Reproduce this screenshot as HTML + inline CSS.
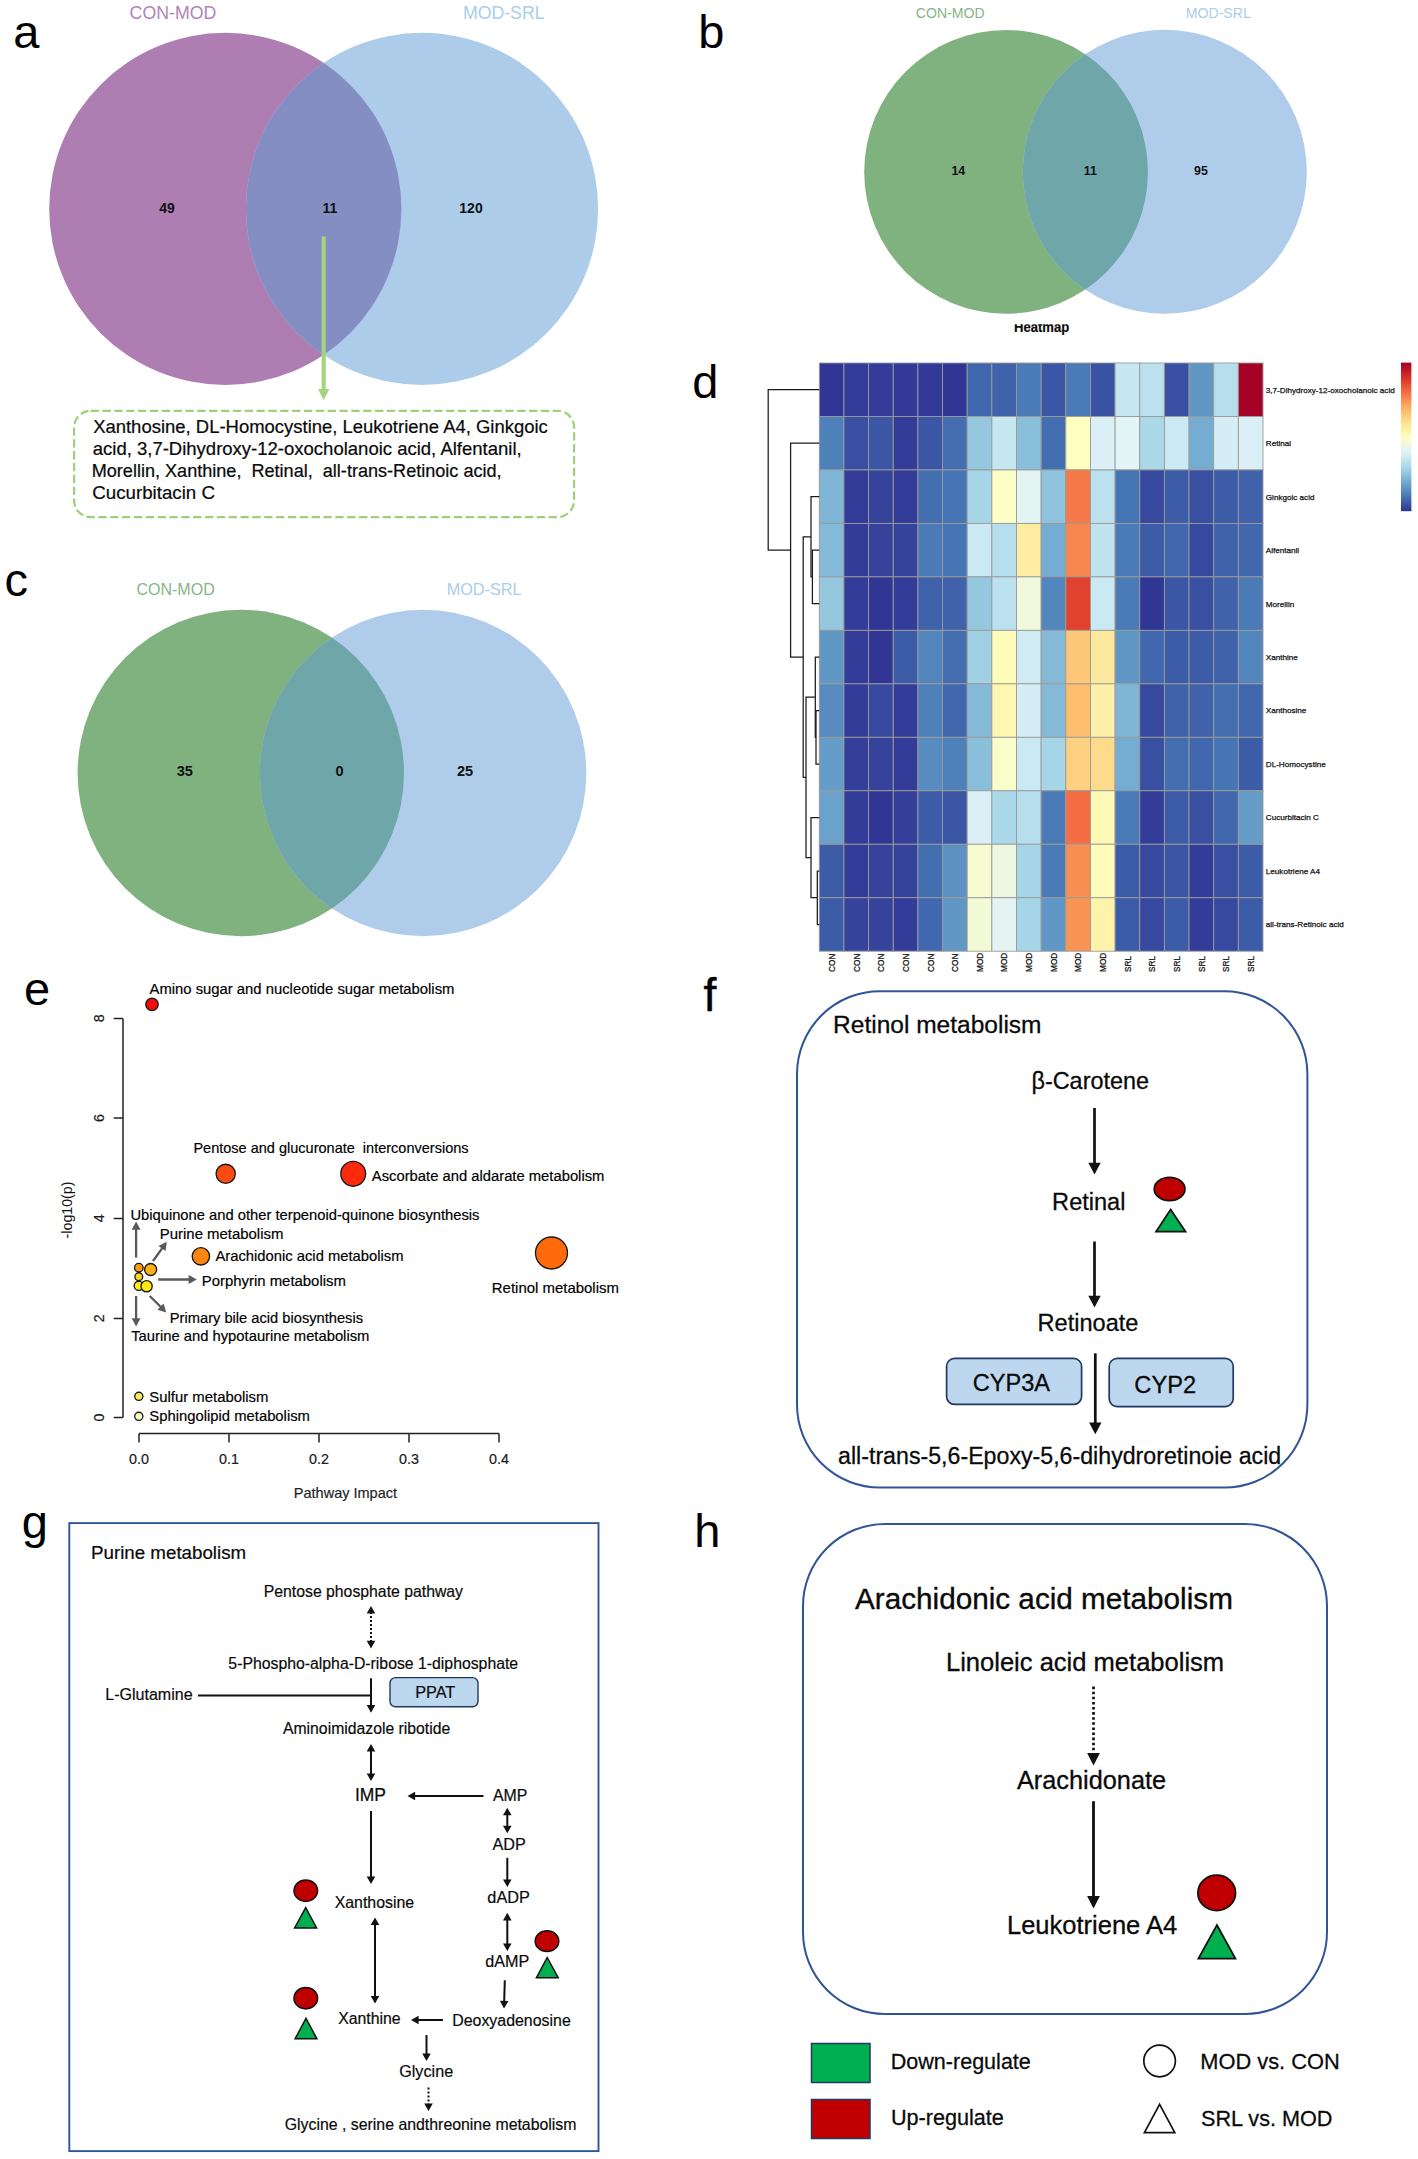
<!DOCTYPE html>
<html lang="en"><head><meta charset="utf-8"><title>Figure</title>
<style>
html,body{margin:0;padding:0;background:#fff}
body{width:1418px;height:2159px;overflow:hidden}
svg{display:block;font-family:"Liberation Sans",sans-serif}
</style></head><body>
<svg width="1418" height="2159" viewBox="0 0 1418 2159">
<rect width="1418" height="2159" fill="#fff"/>
<text x="13.30" y="48.15" font-size="47" fill="#000">a</text>
<text x="698.24" y="48.10" font-size="47" fill="#000">b</text>
<text x="4.60" y="595.60" font-size="47" fill="#000">c</text>
<clipPath id="cpa"><circle cx="225.3" cy="208.9" r="176.1"/></clipPath>
<circle cx="225.3" cy="208.9" r="176.1" fill="#AE7EB3"/>
<circle cx="422" cy="208.9" r="176.1" fill="#ACCCE9"/>
<circle cx="422" cy="208.9" r="176.1" fill="#858EC3" clip-path="url(#cpa)"/>
<text x="129.61" y="18.70" font-size="17.72" fill="#B183B8" textLength="86.64" lengthAdjust="spacingAndGlyphs" stroke="none">CON-MOD</text>
<text x="462.88" y="18.70" font-size="17.71" fill="#A9CDEB" textLength="81.67" lengthAdjust="spacingAndGlyphs" stroke="none">MOD-SRL</text>
<text x="167.00" y="212.50" font-size="14.00" fill="#111" font-weight="bold" text-anchor="middle">49</text>
<text x="330.00" y="212.50" font-size="14.00" fill="#111" font-weight="bold" text-anchor="middle">11</text>
<text x="471.00" y="212.50" font-size="14.00" fill="#111" font-weight="bold" text-anchor="middle">120</text>
<line x1="323.7" y1="236.5" x2="323.7" y2="390" stroke="#A5D47C" stroke-width="4.1"/>
<polygon points="323.7,400.2 318,389 329.4,389" fill="#A5D47C"/>
<rect x="74.1" y="410.8" width="500" height="106.3" rx="16.5" ry="16.5" fill="#fff" stroke="#9FD077" stroke-width="2.2" stroke-dasharray="8.3 3.55"/>
<text x="93.13" y="433.30" font-size="18.47" fill="#0a0a0a" textLength="454.73" lengthAdjust="spacingAndGlyphs" stroke="#0a0a0a" stroke-width="0.22">Xanthosine, DL-Homocystine, Leukotriene A4, Ginkgoic</text>
<text x="92.76" y="455.20" font-size="18.50" fill="#0a0a0a" textLength="428.90" lengthAdjust="spacingAndGlyphs" stroke="#0a0a0a" stroke-width="0.22">acid, 3,7-Dihydroxy-12-oxocholanoic acid, Alfentanil,</text>
<text x="91.75" y="477.30" font-size="18.07" fill="#0a0a0a" textLength="409.82" lengthAdjust="spacingAndGlyphs" stroke="#0a0a0a" stroke-width="0.22">Morellin, Xanthine,  Retinal,  all-trans-Retinoic acid,</text>
<text x="92.26" y="499.10" font-size="18.70" fill="#0a0a0a" textLength="122.65" lengthAdjust="spacingAndGlyphs" stroke="#0a0a0a" stroke-width="0.22">Cucurbitacin C</text>
<clipPath id="cpb"><circle cx="1006.05" cy="171.85" r="141.85"/></clipPath>
<circle cx="1006.05" cy="171.85" r="141.85" fill="#80B280"/>
<circle cx="1164.8" cy="171.85" r="142" fill="#AFCCEA"/>
<circle cx="1164.8" cy="171.85" r="142" fill="#6EA6AA" clip-path="url(#cpb)"/>
<text x="915.80" y="17.70" font-size="14.09" fill="#86B686" textLength="68.88" lengthAdjust="spacingAndGlyphs" stroke="none">CON-MOD</text>
<text x="1185.87" y="17.70" font-size="14.07" fill="#A9CDEB" textLength="64.87" lengthAdjust="spacingAndGlyphs" stroke="none">MOD-SRL</text>
<text x="958.30" y="174.80" font-size="12.40" fill="#111" font-weight="bold" text-anchor="middle">14</text>
<text x="1090.40" y="174.80" font-size="12.40" fill="#111" font-weight="bold" text-anchor="middle">11</text>
<text x="1201.00" y="174.80" font-size="12.40" fill="#111" font-weight="bold" text-anchor="middle">95</text>
<clipPath id="cpc"><circle cx="240.8" cy="773" r="163.2"/></clipPath>
<circle cx="240.8" cy="773" r="163.2" fill="#80B280"/>
<circle cx="423.1" cy="773" r="163.2" fill="#AFCCEA"/>
<circle cx="423.1" cy="773" r="163.2" fill="#6EA6AA" clip-path="url(#cpc)"/>
<text x="136.40" y="595.40" font-size="16.03" fill="#86B686" textLength="78.38" lengthAdjust="spacingAndGlyphs" stroke="none">CON-MOD</text>
<text x="446.70" y="595.40" font-size="16.24" fill="#A9CDEB" textLength="74.91" lengthAdjust="spacingAndGlyphs" stroke="none">MOD-SRL</text>
<text x="184.80" y="776.10" font-size="14.60" fill="#111" font-weight="bold" text-anchor="middle">35</text>
<text x="339.50" y="776.10" font-size="14.60" fill="#111" font-weight="bold" text-anchor="middle">0</text>
<text x="465.00" y="776.10" font-size="14.60" fill="#111" font-weight="bold" text-anchor="middle">25</text>
<text x="692.13" y="397.90" font-size="47" fill="#000">d</text>
<g stroke="#9A9A9A" stroke-width="0.9">
<rect x="819.30" y="363.00" width="24.65" height="53.47" fill="#313695"/>
<rect x="843.95" y="363.00" width="24.65" height="53.47" fill="#333C98"/>
<rect x="868.60" y="363.00" width="24.65" height="53.47" fill="#333C98"/>
<rect x="893.25" y="363.00" width="24.65" height="53.47" fill="#323997"/>
<rect x="917.90" y="363.00" width="24.65" height="53.47" fill="#323997"/>
<rect x="942.55" y="363.00" width="24.65" height="53.47" fill="#313695"/>
<rect x="967.20" y="363.00" width="24.65" height="53.47" fill="#4168AE"/>
<rect x="991.85" y="363.00" width="24.65" height="53.47" fill="#3F62AB"/>
<rect x="1016.50" y="363.00" width="24.65" height="53.47" fill="#4A7BB7"/>
<rect x="1041.15" y="363.00" width="24.65" height="53.47" fill="#3B56A4"/>
<rect x="1065.80" y="363.00" width="24.65" height="53.47" fill="#4A7BB7"/>
<rect x="1090.45" y="363.00" width="24.65" height="53.47" fill="#3A52A3"/>
<rect x="1115.10" y="363.00" width="24.65" height="53.47" fill="#C6E6F0"/>
<rect x="1139.75" y="363.00" width="24.65" height="53.47" fill="#BBE1EE"/>
<rect x="1164.40" y="363.00" width="24.65" height="53.47" fill="#394FA1"/>
<rect x="1189.05" y="363.00" width="24.65" height="53.47" fill="#6197C5"/>
<rect x="1213.70" y="363.00" width="24.65" height="53.47" fill="#B6DEEC"/>
<rect x="1238.35" y="363.00" width="24.65" height="53.47" fill="#A50026"/>
<rect x="819.30" y="416.47" width="24.65" height="53.47" fill="#4E80BA"/>
<rect x="843.95" y="416.47" width="24.65" height="53.47" fill="#394FA1"/>
<rect x="868.60" y="416.47" width="24.65" height="53.47" fill="#3B56A4"/>
<rect x="893.25" y="416.47" width="24.65" height="53.47" fill="#333C98"/>
<rect x="917.90" y="416.47" width="24.65" height="53.47" fill="#3B56A4"/>
<rect x="942.55" y="416.47" width="24.65" height="53.47" fill="#436FB1"/>
<rect x="967.20" y="416.47" width="24.65" height="53.47" fill="#95C7DF"/>
<rect x="991.85" y="416.47" width="24.65" height="53.47" fill="#C6E6F0"/>
<rect x="1016.50" y="416.47" width="24.65" height="53.47" fill="#8ABFDB"/>
<rect x="1041.15" y="416.47" width="24.65" height="53.47" fill="#436FB1"/>
<rect x="1065.80" y="416.47" width="24.65" height="53.47" fill="#FFFFBF"/>
<rect x="1090.45" y="416.47" width="24.65" height="53.47" fill="#DBF0F6"/>
<rect x="1115.10" y="416.47" width="24.65" height="53.47" fill="#E2F4F5"/>
<rect x="1139.75" y="416.47" width="24.65" height="53.47" fill="#ABD9E9"/>
<rect x="1164.40" y="416.47" width="24.65" height="53.47" fill="#CBE9F2"/>
<rect x="1189.05" y="416.47" width="24.65" height="53.47" fill="#74ADD1"/>
<rect x="1213.70" y="416.47" width="24.65" height="53.47" fill="#D5EEF5"/>
<rect x="1238.35" y="416.47" width="24.65" height="53.47" fill="#DBF0F6"/>
<rect x="819.30" y="469.95" width="24.65" height="53.47" fill="#7FB6D6"/>
<rect x="843.95" y="469.95" width="24.65" height="53.47" fill="#333C98"/>
<rect x="868.60" y="469.95" width="24.65" height="53.47" fill="#35439B"/>
<rect x="893.25" y="469.95" width="24.65" height="53.47" fill="#333C98"/>
<rect x="917.90" y="469.95" width="24.65" height="53.47" fill="#436FB1"/>
<rect x="942.55" y="469.95" width="24.65" height="53.47" fill="#4575B4"/>
<rect x="967.20" y="469.95" width="24.65" height="53.47" fill="#A6D5E7"/>
<rect x="991.85" y="469.95" width="24.65" height="53.47" fill="#FCFEC5"/>
<rect x="1016.50" y="469.95" width="24.65" height="53.47" fill="#E3F4F2"/>
<rect x="1041.15" y="469.95" width="24.65" height="53.47" fill="#90C3DD"/>
<rect x="1065.80" y="469.95" width="24.65" height="53.47" fill="#F67A49"/>
<rect x="1090.45" y="469.95" width="24.65" height="53.47" fill="#BBE1EE"/>
<rect x="1115.10" y="469.95" width="24.65" height="53.47" fill="#4575B4"/>
<rect x="1139.75" y="469.95" width="24.65" height="53.47" fill="#37499E"/>
<rect x="1164.40" y="469.95" width="24.65" height="53.47" fill="#3D5CA8"/>
<rect x="1189.05" y="469.95" width="24.65" height="53.47" fill="#394FA1"/>
<rect x="1213.70" y="469.95" width="24.65" height="53.47" fill="#3D5CA8"/>
<rect x="1238.35" y="469.95" width="24.65" height="53.47" fill="#3F62AB"/>
<rect x="819.30" y="523.42" width="24.65" height="53.47" fill="#84BAD8"/>
<rect x="843.95" y="523.42" width="24.65" height="53.47" fill="#333C98"/>
<rect x="868.60" y="523.42" width="24.65" height="53.47" fill="#35439B"/>
<rect x="893.25" y="523.42" width="24.65" height="53.47" fill="#35439B"/>
<rect x="917.90" y="523.42" width="24.65" height="53.47" fill="#4A7BB7"/>
<rect x="942.55" y="523.42" width="24.65" height="53.47" fill="#4575B4"/>
<rect x="967.20" y="523.42" width="24.65" height="53.47" fill="#CBE9F2"/>
<rect x="991.85" y="523.42" width="24.65" height="53.47" fill="#B6DEEC"/>
<rect x="1016.50" y="523.42" width="24.65" height="53.47" fill="#FEECA3"/>
<rect x="1041.15" y="523.42" width="24.65" height="53.47" fill="#74ADD1"/>
<rect x="1065.80" y="523.42" width="24.65" height="53.47" fill="#F8874F"/>
<rect x="1090.45" y="523.42" width="24.65" height="53.47" fill="#C0E3EF"/>
<rect x="1115.10" y="523.42" width="24.65" height="53.47" fill="#4A7BB7"/>
<rect x="1139.75" y="523.42" width="24.65" height="53.47" fill="#3D5CA8"/>
<rect x="1164.40" y="523.42" width="24.65" height="53.47" fill="#4168AE"/>
<rect x="1189.05" y="523.42" width="24.65" height="53.47" fill="#37499E"/>
<rect x="1213.70" y="523.42" width="24.65" height="53.47" fill="#3F62AB"/>
<rect x="1238.35" y="523.42" width="24.65" height="53.47" fill="#4168AE"/>
<rect x="819.30" y="576.89" width="24.65" height="53.47" fill="#95C7DF"/>
<rect x="843.95" y="576.89" width="24.65" height="53.47" fill="#333C98"/>
<rect x="868.60" y="576.89" width="24.65" height="53.47" fill="#313695"/>
<rect x="893.25" y="576.89" width="24.65" height="53.47" fill="#333C98"/>
<rect x="917.90" y="576.89" width="24.65" height="53.47" fill="#3F62AB"/>
<rect x="942.55" y="576.89" width="24.65" height="53.47" fill="#3F62AB"/>
<rect x="967.20" y="576.89" width="24.65" height="53.47" fill="#95C7DF"/>
<rect x="991.85" y="576.89" width="24.65" height="53.47" fill="#BBE1EE"/>
<rect x="1016.50" y="576.89" width="24.65" height="53.47" fill="#F0F9DC"/>
<rect x="1041.15" y="576.89" width="24.65" height="53.47" fill="#5386BD"/>
<rect x="1065.80" y="576.89" width="24.65" height="53.47" fill="#E0422F"/>
<rect x="1090.45" y="576.89" width="24.65" height="53.47" fill="#CBE9F2"/>
<rect x="1115.10" y="576.89" width="24.65" height="53.47" fill="#4A7BB7"/>
<rect x="1139.75" y="576.89" width="24.65" height="53.47" fill="#313695"/>
<rect x="1164.40" y="576.89" width="24.65" height="53.47" fill="#3B56A4"/>
<rect x="1189.05" y="576.89" width="24.65" height="53.47" fill="#394FA1"/>
<rect x="1213.70" y="576.89" width="24.65" height="53.47" fill="#3F62AB"/>
<rect x="1238.35" y="576.89" width="24.65" height="53.47" fill="#4A7BB7"/>
<rect x="819.30" y="630.36" width="24.65" height="53.47" fill="#6197C5"/>
<rect x="843.95" y="630.36" width="24.65" height="53.47" fill="#333C98"/>
<rect x="868.60" y="630.36" width="24.65" height="53.47" fill="#313695"/>
<rect x="893.25" y="630.36" width="24.65" height="53.47" fill="#3D5CA8"/>
<rect x="917.90" y="630.36" width="24.65" height="53.47" fill="#5386BD"/>
<rect x="942.55" y="630.36" width="24.65" height="53.47" fill="#436FB1"/>
<rect x="967.20" y="630.36" width="24.65" height="53.47" fill="#A0D0E4"/>
<rect x="991.85" y="630.36" width="24.65" height="53.47" fill="#FFFCBA"/>
<rect x="1016.50" y="630.36" width="24.65" height="53.47" fill="#D0EBF4"/>
<rect x="1041.15" y="630.36" width="24.65" height="53.47" fill="#84BAD8"/>
<rect x="1065.80" y="630.36" width="24.65" height="53.47" fill="#FEC778"/>
<rect x="1090.45" y="630.36" width="24.65" height="53.47" fill="#FEE99E"/>
<rect x="1115.10" y="630.36" width="24.65" height="53.47" fill="#6197C5"/>
<rect x="1139.75" y="630.36" width="24.65" height="53.47" fill="#4168AE"/>
<rect x="1164.40" y="630.36" width="24.65" height="53.47" fill="#3D5CA8"/>
<rect x="1189.05" y="630.36" width="24.65" height="53.47" fill="#3D5CA8"/>
<rect x="1213.70" y="630.36" width="24.65" height="53.47" fill="#3F62AB"/>
<rect x="1238.35" y="630.36" width="24.65" height="53.47" fill="#5386BD"/>
<rect x="819.30" y="683.84" width="24.65" height="53.47" fill="#588BC0"/>
<rect x="843.95" y="683.84" width="24.65" height="53.47" fill="#333C98"/>
<rect x="868.60" y="683.84" width="24.65" height="53.47" fill="#37499E"/>
<rect x="893.25" y="683.84" width="24.65" height="53.47" fill="#333C98"/>
<rect x="917.90" y="683.84" width="24.65" height="53.47" fill="#4E80BA"/>
<rect x="942.55" y="683.84" width="24.65" height="53.47" fill="#4168AE"/>
<rect x="967.20" y="683.84" width="24.65" height="53.47" fill="#84BAD8"/>
<rect x="991.85" y="683.84" width="24.65" height="53.47" fill="#FFF6B1"/>
<rect x="1016.50" y="683.84" width="24.65" height="53.47" fill="#D5EEF5"/>
<rect x="1041.15" y="683.84" width="24.65" height="53.47" fill="#84BAD8"/>
<rect x="1065.80" y="683.84" width="24.65" height="53.47" fill="#FDBD6F"/>
<rect x="1090.45" y="683.84" width="24.65" height="53.47" fill="#FEF0A8"/>
<rect x="1115.10" y="683.84" width="24.65" height="53.47" fill="#7FB6D6"/>
<rect x="1139.75" y="683.84" width="24.65" height="53.47" fill="#37499E"/>
<rect x="1164.40" y="683.84" width="24.65" height="53.47" fill="#3F62AB"/>
<rect x="1189.05" y="683.84" width="24.65" height="53.47" fill="#3F62AB"/>
<rect x="1213.70" y="683.84" width="24.65" height="53.47" fill="#436FB1"/>
<rect x="1238.35" y="683.84" width="24.65" height="53.47" fill="#4168AE"/>
<rect x="819.30" y="737.31" width="24.65" height="53.47" fill="#669CC8"/>
<rect x="843.95" y="737.31" width="24.65" height="53.47" fill="#343F9A"/>
<rect x="868.60" y="737.31" width="24.65" height="53.47" fill="#35439B"/>
<rect x="893.25" y="737.31" width="24.65" height="53.47" fill="#333C98"/>
<rect x="917.90" y="737.31" width="24.65" height="53.47" fill="#588BC0"/>
<rect x="942.55" y="737.31" width="24.65" height="53.47" fill="#4E80BA"/>
<rect x="967.20" y="737.31" width="24.65" height="53.47" fill="#8ABFDB"/>
<rect x="991.85" y="737.31" width="24.65" height="53.47" fill="#F9FDCA"/>
<rect x="1016.50" y="737.31" width="24.65" height="53.47" fill="#CBE9F2"/>
<rect x="1041.15" y="737.31" width="24.65" height="53.47" fill="#A6D5E7"/>
<rect x="1065.80" y="737.31" width="24.65" height="53.47" fill="#FED182"/>
<rect x="1090.45" y="737.31" width="24.65" height="53.47" fill="#FEDB8B"/>
<rect x="1115.10" y="737.31" width="24.65" height="53.47" fill="#74ADD1"/>
<rect x="1139.75" y="737.31" width="24.65" height="53.47" fill="#394FA1"/>
<rect x="1164.40" y="737.31" width="24.65" height="53.47" fill="#436FB1"/>
<rect x="1189.05" y="737.31" width="24.65" height="53.47" fill="#4168AE"/>
<rect x="1213.70" y="737.31" width="24.65" height="53.47" fill="#4575B4"/>
<rect x="1238.35" y="737.31" width="24.65" height="53.47" fill="#3D5CA8"/>
<rect x="819.30" y="790.78" width="24.65" height="53.47" fill="#6BA2CB"/>
<rect x="843.95" y="790.78" width="24.65" height="53.47" fill="#333C98"/>
<rect x="868.60" y="790.78" width="24.65" height="53.47" fill="#313695"/>
<rect x="893.25" y="790.78" width="24.65" height="53.47" fill="#343F9A"/>
<rect x="917.90" y="790.78" width="24.65" height="53.47" fill="#3D5CA8"/>
<rect x="942.55" y="790.78" width="24.65" height="53.47" fill="#3B56A4"/>
<rect x="967.20" y="790.78" width="24.65" height="53.47" fill="#DBF0F6"/>
<rect x="991.85" y="790.78" width="24.65" height="53.47" fill="#ABD9E9"/>
<rect x="1016.50" y="790.78" width="24.65" height="53.47" fill="#B6DEEC"/>
<rect x="1041.15" y="790.78" width="24.65" height="53.47" fill="#4A7BB7"/>
<rect x="1065.80" y="790.78" width="24.65" height="53.47" fill="#F46D43"/>
<rect x="1090.45" y="790.78" width="24.65" height="53.47" fill="#FFF9B6"/>
<rect x="1115.10" y="790.78" width="24.65" height="53.47" fill="#4A7BB7"/>
<rect x="1139.75" y="790.78" width="24.65" height="53.47" fill="#333C98"/>
<rect x="1164.40" y="790.78" width="24.65" height="53.47" fill="#3D5CA8"/>
<rect x="1189.05" y="790.78" width="24.65" height="53.47" fill="#394FA1"/>
<rect x="1213.70" y="790.78" width="24.65" height="53.47" fill="#4168AE"/>
<rect x="1238.35" y="790.78" width="24.65" height="53.47" fill="#669CC8"/>
<rect x="819.30" y="844.25" width="24.65" height="53.47" fill="#3D5CA8"/>
<rect x="843.95" y="844.25" width="24.65" height="53.47" fill="#333C98"/>
<rect x="868.60" y="844.25" width="24.65" height="53.47" fill="#35439B"/>
<rect x="893.25" y="844.25" width="24.65" height="53.47" fill="#35439B"/>
<rect x="917.90" y="844.25" width="24.65" height="53.47" fill="#436FB1"/>
<rect x="942.55" y="844.25" width="24.65" height="53.47" fill="#5C91C2"/>
<rect x="967.20" y="844.25" width="24.65" height="53.47" fill="#F6FBD0"/>
<rect x="991.85" y="844.25" width="24.65" height="53.47" fill="#ECF8E1"/>
<rect x="1016.50" y="844.25" width="24.65" height="53.47" fill="#A6D5E7"/>
<rect x="1041.15" y="844.25" width="24.65" height="53.47" fill="#4A7BB7"/>
<rect x="1065.80" y="844.25" width="24.65" height="53.47" fill="#F88E52"/>
<rect x="1090.45" y="844.25" width="24.65" height="53.47" fill="#FFFCBA"/>
<rect x="1115.10" y="844.25" width="24.65" height="53.47" fill="#3D5CA8"/>
<rect x="1139.75" y="844.25" width="24.65" height="53.47" fill="#37499E"/>
<rect x="1164.40" y="844.25" width="24.65" height="53.47" fill="#3B56A4"/>
<rect x="1189.05" y="844.25" width="24.65" height="53.47" fill="#333C98"/>
<rect x="1213.70" y="844.25" width="24.65" height="53.47" fill="#394FA1"/>
<rect x="1238.35" y="844.25" width="24.65" height="53.47" fill="#3D5CA8"/>
<rect x="819.30" y="897.73" width="24.65" height="53.47" fill="#3D5CA8"/>
<rect x="843.95" y="897.73" width="24.65" height="53.47" fill="#35439B"/>
<rect x="868.60" y="897.73" width="24.65" height="53.47" fill="#35439B"/>
<rect x="893.25" y="897.73" width="24.65" height="53.47" fill="#333C98"/>
<rect x="917.90" y="897.73" width="24.65" height="53.47" fill="#4168AE"/>
<rect x="942.55" y="897.73" width="24.65" height="53.47" fill="#6197C5"/>
<rect x="967.20" y="897.73" width="24.65" height="53.47" fill="#F3FAD6"/>
<rect x="991.85" y="897.73" width="24.65" height="53.47" fill="#E3F4F2"/>
<rect x="1016.50" y="897.73" width="24.65" height="53.47" fill="#A6D5E7"/>
<rect x="1041.15" y="897.73" width="24.65" height="53.47" fill="#6197C5"/>
<rect x="1065.80" y="897.73" width="24.65" height="53.47" fill="#F99455"/>
<rect x="1090.45" y="897.73" width="24.65" height="53.47" fill="#FFF3AC"/>
<rect x="1115.10" y="897.73" width="24.65" height="53.47" fill="#3D5CA8"/>
<rect x="1139.75" y="897.73" width="24.65" height="53.47" fill="#37499E"/>
<rect x="1164.40" y="897.73" width="24.65" height="53.47" fill="#3D5CA8"/>
<rect x="1189.05" y="897.73" width="24.65" height="53.47" fill="#333C98"/>
<rect x="1213.70" y="897.73" width="24.65" height="53.47" fill="#37499E"/>
<rect x="1238.35" y="897.73" width="24.65" height="53.47" fill="#3D5CA8"/>
</g>
<text x="1265.80" y="392.64" font-size="8.12" fill="#111" stroke="#111" stroke-width="0.25">3,7-Dihydroxy-12-oxocholanoic acid</text>
<text x="1265.80" y="446.11" font-size="8.12" fill="#111" stroke="#111" stroke-width="0.25">Retinal</text>
<text x="1265.80" y="499.58" font-size="8.12" fill="#111" stroke="#111" stroke-width="0.25">Ginkgoic acid</text>
<text x="1265.80" y="553.05" font-size="8.12" fill="#111" stroke="#111" stroke-width="0.25">Alfentanil</text>
<text x="1265.80" y="606.53" font-size="8.12" fill="#111" stroke="#111" stroke-width="0.25">Morellin</text>
<text x="1265.80" y="660.00" font-size="8.12" fill="#111" stroke="#111" stroke-width="0.25">Xanthine</text>
<text x="1265.80" y="713.47" font-size="8.12" fill="#111" stroke="#111" stroke-width="0.25">Xanthosine</text>
<text x="1265.80" y="766.95" font-size="8.12" fill="#111" stroke="#111" stroke-width="0.25">DL-Homocystine</text>
<text x="1265.80" y="820.42" font-size="8.12" fill="#111" stroke="#111" stroke-width="0.25">Cucurbitacin C</text>
<text x="1265.80" y="873.89" font-size="8.12" fill="#111" stroke="#111" stroke-width="0.25">Leukotriene A4</text>
<text x="1265.80" y="927.36" font-size="8.12" fill="#111" stroke="#111" stroke-width="0.25">all-trans-Retinoic acid</text>
<text transform="translate(834.92,971.9) rotate(-90)" font-size="8.2" fill="#111" stroke="#111" stroke-width="0.25">CON</text>
<text transform="translate(859.57,971.9) rotate(-90)" font-size="8.2" fill="#111" stroke="#111" stroke-width="0.25">CON</text>
<text transform="translate(884.22,971.9) rotate(-90)" font-size="8.2" fill="#111" stroke="#111" stroke-width="0.25">CON</text>
<text transform="translate(908.87,971.9) rotate(-90)" font-size="8.2" fill="#111" stroke="#111" stroke-width="0.25">CON</text>
<text transform="translate(933.52,971.9) rotate(-90)" font-size="8.2" fill="#111" stroke="#111" stroke-width="0.25">CON</text>
<text transform="translate(958.17,971.9) rotate(-90)" font-size="8.2" fill="#111" stroke="#111" stroke-width="0.25">CON</text>
<text transform="translate(982.82,971.9) rotate(-90)" font-size="8.2" fill="#111" stroke="#111" stroke-width="0.25">MOD</text>
<text transform="translate(1007.47,971.9) rotate(-90)" font-size="8.2" fill="#111" stroke="#111" stroke-width="0.25">MOD</text>
<text transform="translate(1032.12,971.9) rotate(-90)" font-size="8.2" fill="#111" stroke="#111" stroke-width="0.25">MOD</text>
<text transform="translate(1056.77,971.9) rotate(-90)" font-size="8.2" fill="#111" stroke="#111" stroke-width="0.25">MOD</text>
<text transform="translate(1081.42,971.9) rotate(-90)" font-size="8.2" fill="#111" stroke="#111" stroke-width="0.25">MOD</text>
<text transform="translate(1106.08,971.9) rotate(-90)" font-size="8.2" fill="#111" stroke="#111" stroke-width="0.25">MOD</text>
<text transform="translate(1130.72,971.9) rotate(-90)" font-size="8.2" fill="#111" stroke="#111" stroke-width="0.25">SRL</text>
<text transform="translate(1155.38,971.9) rotate(-90)" font-size="8.2" fill="#111" stroke="#111" stroke-width="0.25">SRL</text>
<text transform="translate(1180.02,971.9) rotate(-90)" font-size="8.2" fill="#111" stroke="#111" stroke-width="0.25">SRL</text>
<text transform="translate(1204.67,971.9) rotate(-90)" font-size="8.2" fill="#111" stroke="#111" stroke-width="0.25">SRL</text>
<text transform="translate(1229.33,971.9) rotate(-90)" font-size="8.2" fill="#111" stroke="#111" stroke-width="0.25">SRL</text>
<text transform="translate(1253.97,971.9) rotate(-90)" font-size="8.2" fill="#111" stroke="#111" stroke-width="0.25">SRL</text>
<clipPath id="cph"><rect x="1000" y="324.2" width="100" height="20"/></clipPath>
<text x="1014.05" y="331.70" font-size="13.90" fill="#0a0a0a" font-weight="bold" textLength="55.15" lengthAdjust="spacingAndGlyphs" clip-path="url(#cph)" stroke="#0a0a0a" stroke-width="0.17">Heatmap</text>
<defs><linearGradient id="cb" x1="0" y1="1" x2="0" y2="0"><stop offset="0%" stop-color="#313695"/><stop offset="10%" stop-color="#4575B4"/><stop offset="20%" stop-color="#74ADD1"/><stop offset="30%" stop-color="#ABD9E9"/><stop offset="40%" stop-color="#E0F3F8"/><stop offset="50%" stop-color="#FFFFBF"/><stop offset="60%" stop-color="#FEE090"/><stop offset="70%" stop-color="#FDAE61"/><stop offset="80%" stop-color="#F46D43"/><stop offset="90%" stop-color="#D73027"/><stop offset="100%" stop-color="#A50026"/></linearGradient></defs>
<rect x="1401" y="362.6" width="10.4" height="148.6" fill="url(#cb)"/>
<polyline points="819.3,550.2 812.4,550.2 812.4,603.6 819.3,603.6" fill="none" stroke="#1a1a1a" stroke-width="1.25"/>
<polyline points="819.3,496.7 811.0,496.7 811.0,576.9 812.4,576.9" fill="none" stroke="#1a1a1a" stroke-width="1.25"/>
<polyline points="819.3,710.6 816.0,710.6 816.0,764.0 819.3,764.0" fill="none" stroke="#1a1a1a" stroke-width="1.25"/>
<polyline points="819.3,657.1 815.3,657.1 815.3,737.3 816.0,737.3" fill="none" stroke="#1a1a1a" stroke-width="1.25"/>
<polyline points="819.3,871.0 817.3,871.0 817.3,924.5 819.3,924.5" fill="none" stroke="#1a1a1a" stroke-width="1.25"/>
<polyline points="819.3,817.5 811.0,817.5 811.0,897.7 817.3,897.7" fill="none" stroke="#1a1a1a" stroke-width="1.25"/>
<polyline points="815.3,697.2 806.0,697.2 806.0,857.6 811.0,857.6" fill="none" stroke="#1a1a1a" stroke-width="1.25"/>
<polyline points="811.0,536.8 803.2,536.8 803.2,777.4 806.0,777.4" fill="none" stroke="#1a1a1a" stroke-width="1.25"/>
<polyline points="819.3,443.2 790.6,443.2 790.6,657.1 803.2,657.1" fill="none" stroke="#1a1a1a" stroke-width="1.25"/>
<polyline points="819.3,389.7 768.2,389.7 768.2,550.2 790.6,550.2" fill="none" stroke="#1a1a1a" stroke-width="1.25"/>
<text x="23.91" y="1004.60" font-size="47" fill="#000">e</text>
<path d="M113.7 1018.4H123M113.7 1118H123M113.7 1218.4H123M113.7 1318.4H123M113.7 1417.6H123M123 1018.4V1417.6" stroke="#222" stroke-width="1.5" fill="none"/>
<text transform="translate(103.6,1018.4) rotate(-90)" font-size="14.3" fill="#1a1a1a" stroke="#1a1a1a" stroke-width="0.2" text-anchor="middle">8</text>
<text transform="translate(103.6,1118) rotate(-90)" font-size="14.3" fill="#1a1a1a" stroke="#1a1a1a" stroke-width="0.2" text-anchor="middle">6</text>
<text transform="translate(103.6,1218.4) rotate(-90)" font-size="14.3" fill="#1a1a1a" stroke="#1a1a1a" stroke-width="0.2" text-anchor="middle">4</text>
<text transform="translate(103.6,1318.4) rotate(-90)" font-size="14.3" fill="#1a1a1a" stroke="#1a1a1a" stroke-width="0.2" text-anchor="middle">2</text>
<text transform="translate(103.6,1417.6) rotate(-90)" font-size="14.3" fill="#1a1a1a" stroke="#1a1a1a" stroke-width="0.2" text-anchor="middle">0</text>
<text transform="translate(71.5,1210) rotate(-90)" font-size="14.2" fill="#111" text-anchor="middle">-log10(p)</text>
<path d="M139 1433.5H499M139 1433.5V1442.5M229 1433.5V1442.5M319 1433.5V1442.5M409 1433.5V1442.5M499 1433.5V1442.5" stroke="#222" stroke-width="1.5" fill="none"/>
<text x="139.00" y="1463.80" font-size="14.30" fill="#1a1a1a" text-anchor="middle" stroke="#1a1a1a" stroke-width="0.2">0.0</text>
<text x="229.00" y="1463.80" font-size="14.30" fill="#1a1a1a" text-anchor="middle" stroke="#1a1a1a" stroke-width="0.2">0.1</text>
<text x="319.00" y="1463.80" font-size="14.30" fill="#1a1a1a" text-anchor="middle" stroke="#1a1a1a" stroke-width="0.2">0.2</text>
<text x="409.00" y="1463.80" font-size="14.30" fill="#1a1a1a" text-anchor="middle" stroke="#1a1a1a" stroke-width="0.2">0.3</text>
<text x="499.00" y="1463.80" font-size="14.30" fill="#1a1a1a" text-anchor="middle" stroke="#1a1a1a" stroke-width="0.2">0.4</text>
<text x="293.84" y="1498.00" font-size="14.51" fill="#222" textLength="103.22" lengthAdjust="spacingAndGlyphs" stroke="#222" stroke-width="0.17">Pathway Impact</text>
<circle cx="152" cy="1004.3" r="6.2" fill="#F50A0A" stroke="#1a1a1a" stroke-width="1.35"/>
<circle cx="225.7" cy="1173.8" r="9.6" fill="#FB4A12" stroke="#1a1a1a" stroke-width="1.35"/>
<circle cx="353.2" cy="1173.8" r="12.4" fill="#FD2A0C" stroke="#1a1a1a" stroke-width="1.35"/>
<circle cx="551.5" cy="1253" r="16" fill="#FF6A0D" stroke="#1a1a1a" stroke-width="1.35"/>
<circle cx="200.9" cy="1256.3" r="8.7" fill="#FF860E" stroke="#1a1a1a" stroke-width="1.35"/>
<circle cx="138.8" cy="1267.7" r="4.3" fill="#FF9A10" stroke="#1a1a1a" stroke-width="1.35"/>
<circle cx="150.6" cy="1269.5" r="6" fill="#FFB014" stroke="#1a1a1a" stroke-width="1.35"/>
<circle cx="138.8" cy="1276.7" r="3.9" fill="#FFD21E" stroke="#1a1a1a" stroke-width="1.35"/>
<circle cx="138.8" cy="1285.8" r="4.6" fill="#FFEE14" stroke="#1a1a1a" stroke-width="1.35"/>
<circle cx="146.6" cy="1286.2" r="5.6" fill="#FFE814" stroke="#1a1a1a" stroke-width="1.35"/>
<circle cx="138.8" cy="1396.3" r="4.1" fill="#F4EC58" stroke="#1a1a1a" stroke-width="1.35"/>
<circle cx="138.8" cy="1416.3" r="4.1" fill="#FAFAC4" stroke="#1a1a1a" stroke-width="1.35"/>
<text x="149.50" y="993.90" font-size="14.83" fill="#000" textLength="304.93" lengthAdjust="spacingAndGlyphs" stroke="#000" stroke-width="0.18">Amino sugar and nucleotide sugar metabolism</text>
<text x="193.44" y="1152.70" font-size="14.51" fill="#000" textLength="275.10" lengthAdjust="spacingAndGlyphs" stroke="#000" stroke-width="0.17">Pentose and glucuronate  interconversions</text>
<text x="371.80" y="1180.50" font-size="14.79" fill="#000" textLength="232.61" lengthAdjust="spacingAndGlyphs" stroke="#000" stroke-width="0.18">Ascorbate and aldarate metabolism</text>
<text x="130.39" y="1220.00" font-size="14.74" fill="#000" textLength="349.11" lengthAdjust="spacingAndGlyphs" stroke="#000" stroke-width="0.18">Ubiquinone and other terpenoid-quinone biosynthesis</text>
<text x="159.81" y="1239.00" font-size="14.93" fill="#000" textLength="123.61" lengthAdjust="spacingAndGlyphs" stroke="#000" stroke-width="0.18">Purine metabolism</text>
<text x="215.50" y="1261.00" font-size="14.77" fill="#000" textLength="187.94" lengthAdjust="spacingAndGlyphs" stroke="#000" stroke-width="0.18">Arachidonic acid metabolism</text>
<text x="201.81" y="1286.00" font-size="14.90" fill="#000" textLength="144.10" lengthAdjust="spacingAndGlyphs" stroke="#000" stroke-width="0.18">Porphyrin metabolism</text>
<text x="169.83" y="1323.00" font-size="14.67" fill="#000" textLength="193.22" lengthAdjust="spacingAndGlyphs" stroke="#000" stroke-width="0.18">Primary bile acid biosynthesis</text>
<text x="131.20" y="1341.00" font-size="14.78" fill="#000" textLength="238.20" lengthAdjust="spacingAndGlyphs" stroke="#000" stroke-width="0.18">Taurine and hypotaurine metabolism</text>
<text x="149.33" y="1401.50" font-size="14.88" fill="#000" textLength="119.11" lengthAdjust="spacingAndGlyphs" stroke="#000" stroke-width="0.18">Sulfur metabolism</text>
<text x="149.33" y="1420.50" font-size="14.82" fill="#000" textLength="160.63" lengthAdjust="spacingAndGlyphs" stroke="#000" stroke-width="0.18">Sphingolipid metabolism</text>
<text x="491.80" y="1292.50" font-size="14.95" fill="#000" textLength="127.15" lengthAdjust="spacingAndGlyphs" stroke="#000" stroke-width="0.18">Retinol metabolism</text>
<line x1="136.10" y1="1257.60" x2="136.10" y2="1228.16" stroke="#595959" stroke-width="2.3"/>
<polygon points="136.10,1221.60 140.50,1229.80 131.70,1229.80" fill="#595959"/>
<line x1="136.10" y1="1296.00" x2="136.10" y2="1319.84" stroke="#595959" stroke-width="2.3"/>
<polygon points="136.10,1326.40 131.70,1318.20 140.50,1318.20" fill="#595959"/>
<line x1="158.20" y1="1279.50" x2="190.24" y2="1279.50" stroke="#595959" stroke-width="2.3"/>
<polygon points="196.80,1279.50 188.60,1283.90 188.60,1275.10" fill="#595959"/>
<line x1="153.00" y1="1261.00" x2="162.97" y2="1247.13" stroke="#595959" stroke-width="2.3"/>
<polygon points="166.80,1241.80 165.59,1251.03 158.44,1245.89" fill="#595959"/>
<line x1="149.70" y1="1296.00" x2="161.63" y2="1307.79" stroke="#595959" stroke-width="2.3"/>
<polygon points="166.30,1312.40 157.37,1309.77 163.56,1303.51" fill="#595959"/>
<text x="703.51" y="1010.80" font-size="46.5" fill="#000" stroke="#000" stroke-width="0.4">f</text>
<rect x="797" y="991.2" width="510.4" height="496.4" rx="83" ry="83" fill="none" stroke="#2F5597" stroke-width="2"/>
<text x="833.04" y="1032.50" font-size="24.52" fill="#0a0a0a" textLength="208.52" lengthAdjust="spacingAndGlyphs" stroke="#0a0a0a" stroke-width="0.29">Retinol metabolism</text>
<text x="1031.48" y="1089.00" font-size="23.40" fill="#0a0a0a" textLength="117.51" lengthAdjust="spacingAndGlyphs" stroke="#0a0a0a" stroke-width="0.28">β-Carotene</text>
<line x1="1094.50" y1="1108.00" x2="1094.50" y2="1165.14" stroke="#111" stroke-width="2.7"/>
<polygon points="1094.50,1174.50 1088.30,1162.80 1100.70,1162.80" fill="#111"/>
<text x="1052.11" y="1210.00" font-size="23.57" fill="#0a0a0a" textLength="73.37" lengthAdjust="spacingAndGlyphs" stroke="#0a0a0a" stroke-width="0.28">Retinal</text>
<ellipse cx="1169.6" cy="1189" rx="15.4" ry="11.6" fill="#C00000" stroke="#111" stroke-width="1.7"/>
<polygon points="1170.6,1209.6 1185.6,1231.7 1156,1231.7" fill="#00B050" stroke="#111" stroke-width="1.7" stroke-linejoin="miter"/>
<line x1="1094.50" y1="1241.50" x2="1094.50" y2="1298.14" stroke="#111" stroke-width="2.7"/>
<polygon points="1094.50,1307.50 1088.30,1295.80 1100.70,1295.80" fill="#111"/>
<text x="1037.62" y="1331.00" font-size="23.56" fill="#0a0a0a" textLength="100.85" lengthAdjust="spacingAndGlyphs" stroke="#0a0a0a" stroke-width="0.28">Retinoate</text>
<line x1="1095.30" y1="1353.30" x2="1095.30" y2="1424.94" stroke="#111" stroke-width="2.7"/>
<polygon points="1095.30,1434.30 1089.10,1422.60 1101.50,1422.60" fill="#111"/>
<rect x="946.6" y="1358.4" width="135" height="46" rx="8" ry="8" fill="#BDD7EE" stroke="#203864" stroke-width="1.7"/>
<rect x="1109.2" y="1358.4" width="124" height="48.2" rx="8" ry="8" fill="#BDD7EE" stroke="#203864" stroke-width="1.7"/>
<text x="972.82" y="1391.00" font-size="23.57" fill="#0a0a0a" textLength="77.28" lengthAdjust="spacingAndGlyphs" stroke="#0a0a0a" stroke-width="0.28">CYP3A</text>
<text x="1134.32" y="1393.00" font-size="23.66" fill="#0a0a0a" textLength="61.80" lengthAdjust="spacingAndGlyphs" stroke="#0a0a0a" stroke-width="0.28">CYP2</text>
<text x="838.07" y="1464.00" font-size="23.18" fill="#0a0a0a" textLength="443.14" lengthAdjust="spacingAndGlyphs" stroke="#0a0a0a" stroke-width="0.28">all-trans-5,6-Epoxy-5,6-dihydroretinoie acid</text>
<text x="21.78" y="1537.80" font-size="47" fill="#000">g</text>
<rect x="69.3" y="1523.1" width="529.2" height="628" fill="none" stroke="#2F5597" stroke-width="1.9"/>
<text x="91.00" y="1558.50" font-size="18.73" fill="#0a0a0a" textLength="155.15" lengthAdjust="spacingAndGlyphs" stroke="#0a0a0a" stroke-width="0.22">Purine metabolism</text>
<text x="263.74" y="1596.50" font-size="15.79" fill="#0a0a0a" textLength="199.28" lengthAdjust="spacingAndGlyphs" stroke="#0a0a0a" stroke-width="0.19">Pentose phosphate pathway</text>
<line x1="371.00" y1="1612.08" x2="371.00" y2="1642.32" stroke="#111" stroke-width="2.0" stroke-dasharray="2 2"/>
<polygon points="371.00,1648.40 366.70,1640.80 375.30,1640.80" fill="#111"/>
<polygon points="371.00,1606.00 366.70,1613.60 375.30,1613.60" fill="#111"/>
<text x="228.37" y="1668.50" font-size="15.80" fill="#0a0a0a" textLength="289.77" lengthAdjust="spacingAndGlyphs" stroke="#0a0a0a" stroke-width="0.19">5-Phospho-alpha-D-ribose 1-diphosphate</text>
<line x1="371.00" y1="1678.20" x2="371.00" y2="1706.62" stroke="#111" stroke-width="2.0"/>
<polygon points="371.00,1712.70 366.70,1705.10 375.30,1705.10" fill="#111"/>
<text x="105.22" y="1700.00" font-size="16.06" fill="#0a0a0a" textLength="87.46" lengthAdjust="spacingAndGlyphs" stroke="#0a0a0a" stroke-width="0.19">L-Glutamine</text>
<line x1="198" y1="1695.6" x2="371" y2="1695.6" stroke="#111" stroke-width="2.0"/>
<rect x="390" y="1677.6" width="88" height="29.2" rx="5.5" ry="5.5" fill="#BDD7EE" stroke="#203864" stroke-width="1.4"/>
<text x="415.20" y="1698.00" font-size="16.28" fill="#0a0a0a" textLength="40.10" lengthAdjust="spacingAndGlyphs" stroke="#0a0a0a" stroke-width="0.20">PPAT</text>
<text x="283.00" y="1733.50" font-size="15.74" fill="#0a0a0a" textLength="167.16" lengthAdjust="spacingAndGlyphs" stroke="#0a0a0a" stroke-width="0.19">Aminoimidazole ribotide</text>
<line x1="371.00" y1="1750.08" x2="371.00" y2="1774.92" stroke="#111" stroke-width="2.0"/>
<polygon points="371.00,1781.00 366.70,1773.40 375.30,1773.40" fill="#111"/>
<polygon points="371.00,1744.00 366.70,1751.60 375.30,1751.60" fill="#111"/>
<text x="354.93" y="1801.00" font-size="17.43" fill="#0a0a0a" textLength="30.99" lengthAdjust="spacingAndGlyphs" stroke="#0a0a0a" stroke-width="0.21">IMP</text>
<text x="493.00" y="1801.00" font-size="15.84" fill="#0a0a0a" textLength="34.33" lengthAdjust="spacingAndGlyphs" stroke="#0a0a0a" stroke-width="0.19">AMP</text>
<line x1="483.50" y1="1796.00" x2="413.58" y2="1796.00" stroke="#111" stroke-width="2.0"/>
<polygon points="407.50,1796.00 415.10,1791.70 415.10,1800.30" fill="#111"/>
<line x1="371.00" y1="1811.00" x2="371.00" y2="1877.92" stroke="#111" stroke-width="2.0"/>
<polygon points="371.00,1884.00 366.70,1876.40 375.30,1876.40" fill="#111"/>
<line x1="507.30" y1="1813.72" x2="507.30" y2="1827.28" stroke="#111" stroke-width="2.0"/>
<polygon points="507.30,1833.20 503.00,1825.80 511.60,1825.80" fill="#111"/>
<polygon points="507.30,1807.80 503.00,1815.20 511.60,1815.20" fill="#111"/>
<text x="492.50" y="1849.50" font-size="16.21" fill="#0a0a0a" textLength="33.33" lengthAdjust="spacingAndGlyphs" stroke="#0a0a0a" stroke-width="0.19">ADP</text>
<line x1="507.30" y1="1857.80" x2="507.30" y2="1881.02" stroke="#111" stroke-width="2.0"/>
<polygon points="507.30,1887.10 503.00,1879.50 511.60,1879.50" fill="#111"/>
<text x="487.35" y="1902.50" font-size="16.27" fill="#0a0a0a" textLength="42.50" lengthAdjust="spacingAndGlyphs" stroke="#0a0a0a" stroke-width="0.20">dADP</text>
<line x1="507.30" y1="1918.88" x2="507.30" y2="1944.92" stroke="#111" stroke-width="2.0"/>
<polygon points="507.30,1951.00 503.00,1943.40 511.60,1943.40" fill="#111"/>
<polygon points="507.30,1912.80 503.00,1920.40 511.60,1920.40" fill="#111"/>
<text x="485.35" y="1967.00" font-size="16.16" fill="#0a0a0a" textLength="44.01" lengthAdjust="spacingAndGlyphs" stroke="#0a0a0a" stroke-width="0.19">dAMP</text>
<line x1="504.80" y1="1980.20" x2="504.17" y2="2002.32" stroke="#111" stroke-width="2.0"/>
<polygon points="504.00,2008.40 499.92,2000.68 508.51,2000.92" fill="#111"/>
<text x="452.23" y="2025.60" font-size="15.91" fill="#0a0a0a" textLength="118.51" lengthAdjust="spacingAndGlyphs" stroke="#0a0a0a" stroke-width="0.19">Deoxyadenosine</text>
<line x1="443.00" y1="2020.00" x2="417.08" y2="2020.00" stroke="#111" stroke-width="2.0"/>
<polygon points="411.00,2020.00 418.60,2015.70 418.60,2024.30" fill="#111"/>
<text x="338.18" y="2023.50" font-size="15.83" fill="#0a0a0a" textLength="62.50" lengthAdjust="spacingAndGlyphs" stroke="#0a0a0a" stroke-width="0.19">Xanthine</text>
<text x="334.68" y="1907.50" font-size="15.87" fill="#0a0a0a" textLength="79.44" lengthAdjust="spacingAndGlyphs" stroke="#0a0a0a" stroke-width="0.19">Xanthosine</text>
<line x1="375.00" y1="1923.58" x2="375.00" y2="1997.42" stroke="#111" stroke-width="2.0"/>
<polygon points="375.00,2003.50 370.70,1995.90 379.30,1995.90" fill="#111"/>
<polygon points="375.00,1917.50 370.70,1925.10 379.30,1925.10" fill="#111"/>
<line x1="426.50" y1="2035.00" x2="426.50" y2="2054.92" stroke="#111" stroke-width="2.0"/>
<polygon points="426.50,2061.00 422.20,2053.40 430.80,2053.40" fill="#111"/>
<text x="399.19" y="2077.00" font-size="16.18" fill="#0a0a0a" textLength="53.95" lengthAdjust="spacingAndGlyphs" stroke="#0a0a0a" stroke-width="0.19">Glycine</text>
<line x1="428.50" y1="2087.50" x2="428.50" y2="2104.92" stroke="#111" stroke-width="2.0" stroke-dasharray="2 2"/>
<polygon points="428.50,2111.00 424.20,2103.40 432.80,2103.40" fill="#111"/>
<text x="284.71" y="2130.00" font-size="15.86" fill="#0a0a0a" textLength="291.81" lengthAdjust="spacingAndGlyphs" stroke="#0a0a0a" stroke-width="0.19">Glycine , serine andthreonine metabolism</text>
<ellipse cx="305.8" cy="1890.7" rx="11.8" ry="10.7" fill="#C00000" stroke="#111" stroke-width="1.5"/>
<polygon points="305.7,1907.6 316.6,1927.9 294.6,1927.9" fill="#00B050" stroke="#111" stroke-width="1.5" stroke-linejoin="miter"/>
<ellipse cx="547" cy="1941.2" rx="11.8" ry="10.4" fill="#C00000" stroke="#111" stroke-width="1.5"/>
<polygon points="547.2,1957.5 558.2,1977.8 536.4,1977.8" fill="#00B050" stroke="#111" stroke-width="1.5" stroke-linejoin="miter"/>
<ellipse cx="305.8" cy="1998.2" rx="11.8" ry="10.7" fill="#C00000" stroke="#111" stroke-width="1.5"/>
<polygon points="306,2018.4 316.9,2038.8 295.1,2038.8" fill="#00B050" stroke="#111" stroke-width="1.5" stroke-linejoin="miter"/>
<text x="694.24" y="1546.80" font-size="47" fill="#000">h</text>
<rect x="803" y="1524" width="524" height="490" rx="82" ry="82" fill="none" stroke="#2F5597" stroke-width="2"/>
<text x="855.00" y="1609.00" font-size="29.69" fill="#0a0a0a" textLength="377.88" lengthAdjust="spacingAndGlyphs" stroke="#0a0a0a" stroke-width="0.36">Arachidonic acid metabolism</text>
<text x="945.96" y="1671.00" font-size="25.53" fill="#0a0a0a" textLength="278.19" lengthAdjust="spacingAndGlyphs" stroke="#0a0a0a" stroke-width="0.31">Linoleic acid metabolism</text>
<line x1="1093.50" y1="1686.60" x2="1093.50" y2="1755.40" stroke="#111" stroke-width="2.7" stroke-dasharray="2.55 2.55"/>
<polygon points="1093.50,1765.40 1087.10,1752.90 1099.90,1752.90" fill="#111"/>
<text x="1017.00" y="1789.00" font-size="25.30" fill="#0a0a0a" textLength="149.09" lengthAdjust="spacingAndGlyphs" stroke="#0a0a0a" stroke-width="0.30">Arachidonate</text>
<line x1="1093.50" y1="1801.20" x2="1093.50" y2="1898.40" stroke="#111" stroke-width="2.8"/>
<polygon points="1093.50,1908.40 1087.10,1895.90 1099.90,1895.90" fill="#111"/>
<text x="1006.96" y="1934.00" font-size="25.51" fill="#0a0a0a" textLength="170.23" lengthAdjust="spacingAndGlyphs" stroke="#0a0a0a" stroke-width="0.31">Leukotriene A4</text>
<ellipse cx="1216.7" cy="1892.9" rx="18.8" ry="17.7" fill="#C00000" stroke="#111" stroke-width="1.8"/>
<polygon points="1216.9,1925 1235.4,1958.6 1198.4,1958.6" fill="#00B050" stroke="#111" stroke-width="1.8" stroke-linejoin="miter"/>
<rect x="811.5" y="2043.5" width="58.5" height="39" fill="#00B050" stroke="#203864" stroke-width="1.5"/>
<rect x="811.5" y="2099.5" width="58.5" height="39" fill="#C00000" stroke="#203864" stroke-width="1.5"/>
<text x="890.78" y="2068.50" font-size="21.53" fill="#0a0a0a" textLength="140.06" lengthAdjust="spacingAndGlyphs" stroke="#0a0a0a" stroke-width="0.26">Down-regulate</text>
<text x="890.88" y="2125.00" font-size="21.62" fill="#0a0a0a" textLength="112.99" lengthAdjust="spacingAndGlyphs" stroke="#0a0a0a" stroke-width="0.26">Up-regulate</text>
<circle cx="1159.6" cy="2061" r="15.8" fill="#fff" stroke="#111" stroke-width="1.7"/>
<polygon points="1159.6,2104.3 1174.8,2132.6 1144.4,2132.6" fill="#fff" stroke="#111" stroke-width="1.7" stroke-linejoin="miter"/>
<text x="1200.25" y="2068.50" font-size="21.83" fill="#0a0a0a" textLength="139.46" lengthAdjust="spacingAndGlyphs" stroke="#0a0a0a" stroke-width="0.26">MOD vs. CON</text>
<text x="1201.03" y="2126.00" font-size="21.64" fill="#0a0a0a" textLength="131.44" lengthAdjust="spacingAndGlyphs" stroke="#0a0a0a" stroke-width="0.26">SRL vs. MOD</text>
</svg>
</body></html>
